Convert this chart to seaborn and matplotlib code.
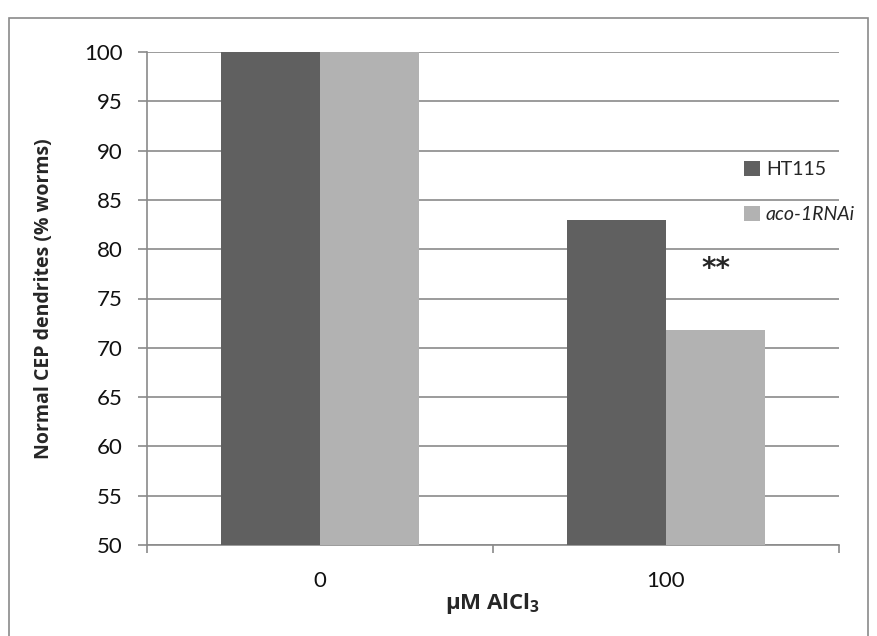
import pandas as pd
import matplotlib
matplotlib.use("Agg")
import matplotlib.pyplot as plt
import seaborn as sns
from matplotlib.patches import Rectangle

# dados do grafico
concentracoes = ["0", "100"]
grupos = ["HT115", "aco-1RNAi"]
ht115 = [100, 83]
aco_rnai = [100, 71.8]
cores = ["#606060", "#b2b2b2"]

dados = pd.DataFrame({
    "conc": concentracoes * 2,
    "grupo": [grupos[0]] * 2 + [grupos[1]] * 2,
    "valor": ht115 + aco_rnai,
})

sns.set_style("white")
plt.rcParams["font.family"] = ["Lato", "DejaVu Sans"]
plt.rcParams["mathtext.fontset"] = "custom"
plt.rcParams["mathtext.rm"] = "Open Sans"
plt.rcParams["mathtext.bf"] = "Open Sans:bold"

fig = plt.figure(figsize=(8.77, 6.36), dpi=100)
ax = fig.add_axes([147 / 877, 91 / 636, 692 / 877, 493 / 636])

sns.barplot(data=dados, x="conc", y="valor", hue="grupo", palette=cores,
            width=0.572, linewidth=0, saturation=1, ax=ax, zorder=3)

ax.set_ylim(50, 100)
ax.set_xlim(-0.5, 1.5)
ax.set_yticks(range(50, 101, 5))
ax.yaxis.grid(True, color="#8a8a8a", linewidth=1.2, zorder=0)
ax.set_axisbelow(True)

for lado in ["top", "right"]:
    ax.spines[lado].set_visible(False)
for lado in ["left", "bottom"]:
    ax.spines[lado].set_color("#8a8a8a")
    ax.spines[lado].set_linewidth(1.2)

ax.tick_params(axis="y", direction="out", length=6.5, width=1.2, color="#8a8a8a",
               pad=11, labelsize=16, left=True, labelcolor="#111111")
ax.set_xticks([-0.5, 0.5, 1.5], minor=True)
ax.tick_params(axis="x", which="minor", direction="out", length=6, width=1.2,
               color="#8a8a8a", bottom=True)
ax.tick_params(axis="x", which="major", length=0, pad=19, labelsize=16,
               labelcolor="#111111")

ax.set_ylabel("Normal CEP dendrites (% worms)", fontsize=14, fontweight="bold",
              family="Open Sans", labelpad=22)
ax.set_xlabel(r"μM AlCl$_\mathbf{3}$", fontsize=16, fontweight="bold",
              family="Open Sans", labelpad=0)

# asteriscos de significancia
ax.text(1.143, 78.0, "**", ha="center", va="center", fontsize=20,
        family="DejaVu Sans", fontweight="bold")

leg = ax.legend(loc="upper left", bbox_to_anchor=(0.838, 0.815), frameon=False,
                fontsize=14, handlelength=0.8, handleheight=0.8,
                handletextpad=0.3, labelspacing=1.45)
leg.get_texts()[1].set_style("italic")

# borda externa do grafico
fig.patches.append(Rectangle((9 / 877, -0.02), 859 / 877, 1.006 - 9 / 636,
                             transform=fig.transFigure, fill=False,
                             edgecolor="#8a8a8a", linewidth=1.2))

fig.savefig("out.png", dpi=100)
